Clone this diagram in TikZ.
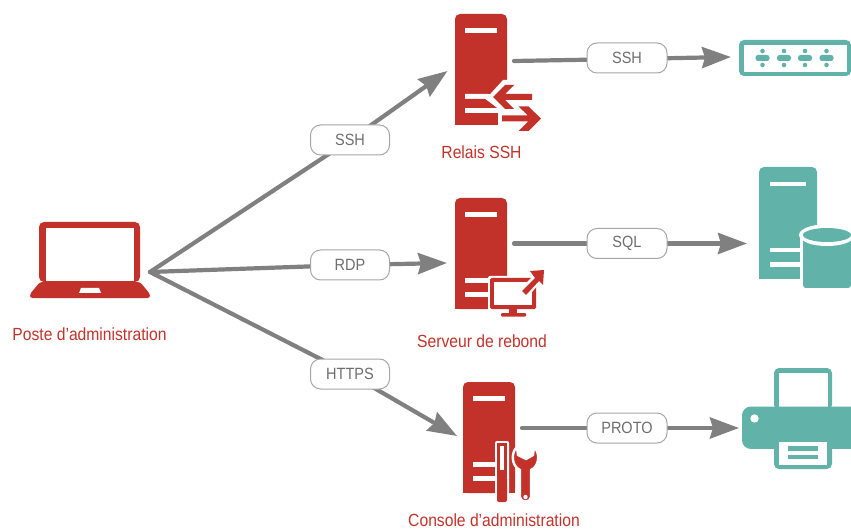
\documentclass[tikz,border=0pt]{standalone}
\usepackage{fontspec}
\setmainfont[FakeStretch=0.89]{Liberation Sans}
\usetikzlibrary{arrows.meta}
\definecolor{rouge}{RGB}{195,50,42}
\definecolor{vert}{RGB}{97,178,168}
\definecolor{gris}{RGB}{128,128,128}
\definecolor{pilltxt}{RGB}{110,110,110}
\tikzset{
  link/.style={draw=gris,line width=4.2pt,line cap=round},
  linkarrow/.style={link,-{Stealth[length=29pt,width=21pt,inset=3pt]}},
  pill/.style={draw=gris!70,line width=1pt,fill=white,rounded corners=10pt,minimum width=79pt,minimum height=30pt,inner sep=0pt,text=pilltxt,font=\fontsize{16.3}{18}\selectfont},
  captext/.style={text=rouge,font=\fontsize{17.6}{19}\selectfont,inner sep=0pt},
  pics/tower/.style args={#1/#2/#3/#4}{code={
    \fill[#1,rounded corners=5pt] (0,#3) -- (0,0) -- (#2,0) -- (#2,#3) -- cycle;
    \fill[#1] (0,#3-8) rectangle (#2,#3);
    \fill[white] (#4,14) rectangle (#2-#4,19);
    \fill[white] (#4,#3-31) rectangle (#2-#4,#3-26);
    \fill[white] (#4,#3-17) rectangle (#2-#4,#3-12);
  }},
}
\begin{document}
\begin{tikzpicture}[x=1pt,y=-1pt]
\useasboundingbox (0,0) rectangle (851,529);

% ---- connector anchors
\coordinate (src) at (150,272);
\coordinate (relaisIn) at (447.5,71);
\coordinate (rebondIn) at (447,263);
\coordinate (consoleIn) at (457,436);
\coordinate (relaisOut) at (514,61);
\coordinate (rebondOut) at (514,243.5);
\coordinate (consoleOut) at (522,428);
\coordinate (switchIn) at (731,57);
\coordinate (dbIn) at (747,243.5);
\coordinate (printerIn) at (739,428);

% ---- connectors (behind the pills)
\coordinate (plssh) at (350,140);
\coordinate (plrdp) at (350,265);
\coordinate (plhttps) at (350,374);
\coordinate (prssh) at (627,59);
\coordinate (prsql) at (627,243.5);
\coordinate (prproto) at (627,428);
\draw[link] (src) -- (plssh);
\draw[linkarrow] (plssh) -- (relaisIn);
\draw[link] (src) -- (plrdp);
\draw[linkarrow] (plrdp) -- (rebondIn);
\draw[link] (src) -- (plhttps);
\draw[linkarrow] (plhttps) -- (consoleIn);
\draw[link] (relaisOut) -- (prssh);
\draw[linkarrow] (prssh) -- (switchIn);
\draw[link] (rebondOut) -- (prsql);
\draw[linkarrow] (prsql) -- (dbIn);
\draw[link] (consoleOut) -- (prproto);
\draw[linkarrow] (prproto) -- (printerIn);

% ---- label pills
\node[pill] (lssh) at (plssh) {SSH};
\node[pill] (lrdp) at (plrdp) {RDP};
\node[pill] (lhttps) at (plhttps) {HTTPS};
\node[pill,minimum width=80pt] (rssh) at (627,58) {SSH};
\node[pill,minimum width=80pt] (rsql) at (prsql) {SQL};
\node[pill,minimum width=80pt] (rproto) at (prproto) {PROTO};

% ---- laptop
\fill[rouge,rounded corners=5pt] (39,282) -- (39,222) -- (140,222) -- (140,282) -- cycle;
\fill[white] (46,228) rectangle (134,281);
\fill[rouge,rounded corners=2.5pt] (40,282) -- (140,282) -- (150,294) -- (150,298) -- (30,298) -- (30,294) -- cycle;
\fill[white] (81,288) -- (99,288) -- (101,293) -- (79,293) -- cycle;
\node[captext] (poste) at (89.5,334) {Poste d’administration};

% ---- relais SSH
\pic at (455,14) {tower={rouge}/{52}/{111}/{10}};
\fill[white] (488,96.5) -- (503,80) -- (545,80) -- (545,132) -- (498,132) -- (498,110) -- cycle;
\fill[white] (465,94) -- (488,94) -- (499,108) -- (499,113) -- (465,113) -- (465,108) -- (497,108) -- (485,99) -- (465,99) -- cycle;
\fill[rouge] (498,125) -- (455,125) -- (455,113) -- (498,113) -- cycle;
\fill[rouge] (465,99) -- (485,99) -- (497,108) -- (465,108) -- cycle;
\fill[rouge] (493,97) -- (505,85) -- (514,85) -- (505,94) -- (532,94) -- (532,100) -- (505,100) -- (514,109) -- (505,109) -- cycle;
\fill[rouge] (502,115.5) -- (528,115.5) -- (518.5,106.5) -- (528.5,106.5) -- (541,118.5) -- (528.5,131) -- (518.5,131) -- (528,121.5) -- (502,121.5) -- cycle;
\node[captext] (relais) at (481.5,152) {Relais SSH};

% ---- serveur de rebond
\pic at (455,198) {tower={rouge}/{52}/{111}/{10}};
\fill[white,rounded corners=2pt] (488,276) rectangle (539,319);
\fill[rouge,rounded corners=1.5pt] (490,278) rectangle (536,309);
\fill[white] (494,282) rectangle (532,305);
\fill[rouge] (509,309) rectangle (517,314);
\fill[rouge,rounded corners=1pt] (501,313) rectangle (526,316.5);
\fill[white] (518,291) -- (532,277) -- (527,268) -- (547,267) -- (546,290) -- (539,284) -- (526,299) -- cycle;
\fill[rouge] (522,291) -- (535,278) -- (530,271) -- (544,270) -- (543,285) -- (539,281) -- (526,295) -- cycle;
\node[captext] (rebond) at (482,341) {Serveur de rebond};

% ---- console
\pic at (463,382) {tower={rouge}/{52}/{111}/{10}};
\fill[white,rounded corners=2pt] (495,441) rectangle (509,505);
\fill[rouge,rounded corners=2pt] (497,477) rectangle (507,502);
\fill[rouge] (497,443) rectangle (507,478);
\fill[white] (500,446) rectangle (504,478);
\fill[rouge] (500,470) rectangle (504,478);
\filldraw[draw=white,line width=2.4pt,fill=rouge] (517,447) .. controls (511,452) and (511,466) .. (520,470) -- (520,497) .. controls (520,503) and (531,503) .. (531,497) -- (531,470) .. controls (540,466) and (540,452) .. (534,447) -- (533,455) -- (526,459) -- (518,455) -- cycle;
\fill[white] (525.5,497) circle (2.2);
\node[captext] (console) at (494,520) {Console d’administration};

% ---- switch
\fill[vert,rounded corners=5pt] (739,76) -- (739,40) -- (851,40) -- (851,76) -- cycle;
\fill[white] (743.5,45) rectangle (847,72);
\foreach \xx in {762.5,784,805,826.5}{
  \fill[vert,rounded corners=2.5pt] (\xx-7,55) rectangle (\xx+7,61);
  \fill[vert] (\xx,51) circle (2.3);
  \fill[vert] (\xx,65) circle (2.3);
}

% ---- base de donnees
\fill[vert,rounded corners=5pt] (759,279) -- (759,167) -- (817,167) -- (817,279) -- cycle;
\fill[vert] (759,270) rectangle (817,279);
\fill[white] (770,182) rectangle (806,186.5);
\fill[white] (770,248) rectangle (806,252.5);
\fill[white] (770,262.5) rectangle (806,267);
\fill[white] (799.5,235) rectangle (851,290);
\fill[white] (825,235) ellipse (26 and 10.5);
\fill[vert,rounded corners=3pt] (803,235) -- (803,288) -- (851,288) -- (851,235) -- cycle;
\fill[white] (827,237) ellipse (26 and 9);
\fill[vert] (827,235) ellipse (24 and 7);

% ---- imprimante
\fill[vert,rounded corners=5pt] (774,410) -- (774,368) -- (832,368) -- (832,410) -- cycle;
\fill[white] (778.5,373) rectangle (827.5,410);
\fill[vert,rounded corners=9pt] (742,449) -- (742,406.5) -- (860,406.5) -- (860,449) -- cycle;
\fill[white] (742,449) rectangle (851,452);
\fill[white] (851,400) rectangle (865,455);
\fill[white] (754.5,418.5) circle (4.2);
\fill[vert,rounded corners=5pt] (774,441) -- (774,469) -- (832,469) -- (832,441) -- cycle;
\fill[white] (779,441.5) rectangle (827,464.5);
\fill[vert] (788,446) rectangle (818,450.5);
\fill[vert] (788,454.5) rectangle (818,459);
\end{tikzpicture}
\end{document}
